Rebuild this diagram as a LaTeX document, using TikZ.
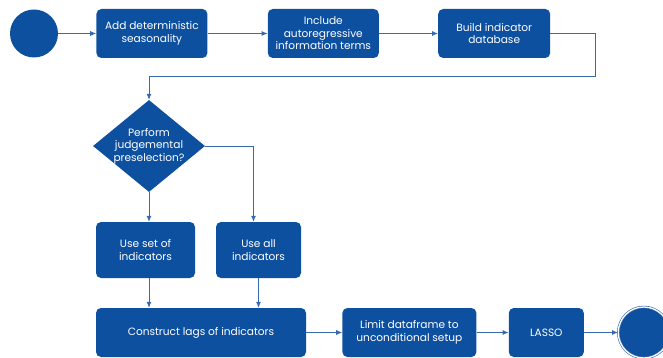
\documentclass[tikz,border=0pt]{standalone}
\usepackage{fontspec}
\setmainfont{Poppins}
\usepackage{xcolor}
\usepackage{tikz}
\usetikzlibrary{positioning,arrows.meta,shapes.geometric}
\definecolor{stepfill}{RGB}{14,80,160}
\definecolor{flow}{RGB}{55,105,175}

\begin{document}
\begin{tikzpicture}[font=\fontsize{10.6}{12.6}\selectfont,>={Latex[length=6pt,width=5pt]},
  box/.style={rounded corners=5pt,fill=stepfill,text=white,minimum height=49pt,align=center,inner sep=2pt},
  dec/.style={diamond,fill=stepfill,text=white,minimum width=112pt,minimum height=92pt,inner sep=-9pt,align=center,shape aspect=1.2},
  startc/.style={circle,fill=stepfill,minimum size=48pt,inner sep=0pt},
  endc/.style={circle,fill=stepfill,draw=flow,double=white,double distance=1.3pt,line width=0.6pt,minimum size=51pt,inner sep=0pt},
  link/.style={->,draw=flow,line width=0.8pt}]
  \useasboundingbox (0,0) rectangle (663pt,-358pt);
  % top row
  \node[startc] (start) at (34pt,-33.5pt) {};
  \node[box,minimum width=111pt,right=38pt of start] (seas) {Add deterministic\\seasonality};
  \node[box,minimum width=111pt,right=60pt of seas] (ar) {Include\\autoregressive\\information terms};
  \node[box,minimum width=112pt,right=59pt of ar] (db) {Build indicator\\database};
  % decision
  \node[dec] (pre) at (149pt,-146pt) {Perform\\judgemental\\preselection?};
  \node[box,minimum width=99pt,minimum height=56pt] (set) at (145.5pt,-250pt) {Use set of\\indicators};
  \node[box,minimum width=85pt,minimum height=56pt] (all) at (258.5pt,-250pt) {Use all\\indicators};
  % bottom row
  \node[box,minimum width=210pt] (lags) at (201pt,-332.5pt) {Construct lags of indicators};
  \node[box,minimum width=134pt,right=36pt of lags] (lim) {Limit dataframe to\\unconditional setup};
  \node[box,minimum width=75pt,right=32pt of lim] (lasso) {LASSO};
  \node[endc,right=34pt of lasso] (end) {};
  \coordinate (turn) at (595pt,-76pt);
  \draw[link] (start) -- (seas);
  \draw[link] (seas) -- (ar);
  \draw[link] (ar) -- (db);
  \draw[link] (db.east) -| (turn) -| (pre.north);
  \draw[link] (pre.south) -- (pre.south |- set.north);
  \draw[link] (pre.east) -| ([xshift=-5pt]all.north);
  \draw[link] (pre.south |- set.south) -- (pre.south |- lags.north);
  \draw[link] (all.south) -- (all.south |- lags.north);
  \draw[link] (lags) -- (lim);
  \draw[link] (lim) -- (lasso);
  \draw[link] (lasso) -- (end);
\end{tikzpicture}
\end{document}
